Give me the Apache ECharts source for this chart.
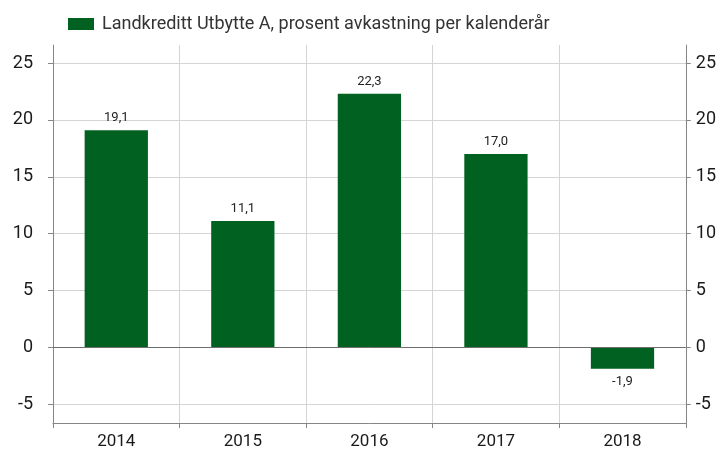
<!DOCTYPE html>
<html>
<head>
<meta charset="utf-8">
<script src="https://cdn.jsdelivr.net/npm/echarts@6/dist/echarts.min.js"></script>
<style>
  html, body { margin: 0; padding: 0; background: #fff; }
  #main { width: 719px; height: 450px; }
</style>
</head>
<body>
<div id="main"></div>
<script>
var years = ['2014', '2015', '2016', '2017', '2018'];
var returns = [19.1, 11.1, 22.3, 17.0, -1.9];
var yTicks = [-5, 0, 5, 10, 15, 20, 25];
var seriesName = 'Landkreditt Utbytte A, prosent avkastning per kalenderår';

var green = '#006121';
var axisGrey = '#868686';
var gridGrey = '#d4d4d4';
var font = 'Roboto';

var myChart = echarts.init(document.getElementById('main'));

function fmt(v) {
    return v.toFixed(1).replace('.', ',');
}

var barData = returns.map(function (v) {
    return {
        value: v,
        label: { position: v < 0 ? 'bottom' : 'top' }
    };
});

function yAxisCfg(pos, withSplit) {
    return {
        type: 'value',
        position: pos,
        min: -6.67,
        max: 26.6,
        splitNumber: 6,
        axisLine: { show: true, lineStyle: { color: axisGrey } },
        axisTick: { show: true, length: 5, lineStyle: { color: axisGrey }, customValues: yTicks },
        axisLabel: {
            customValues: yTicks,
            margin: pos === 'left' ? 20 : 10,
            fontFamily: font, fontSize: 18, color: '#1a1a1a'
        },
        splitLine: {
            show: withSplit,
            lineStyle: { color: gridGrey }
        }
    };
}

option = {
    animation: false,
    legend: {
        data: [seriesName],
        left: 63,
        top: 10,
        itemWidth: 26,
        itemHeight: 12,
        itemGap: 10,
        icon: 'rect',
        textStyle: { fontFamily: font, fontSize: 18, color: '#333', padding: [0, 0, 0, 3] }
    },
    grid: {
        left: 53,
        right: 33,
        top: 45,
        bottom: 27
    },
    xAxis: {
        type: 'category',
        data: years,
        boundaryGap: true,
        axisLine: { onZero: false, lineStyle: { color: axisGrey } },
        axisTick: { show: true, length: 5, lineStyle: { color: axisGrey } },
        axisLabel: { margin: 10, fontFamily: font, fontSize: 17, color: '#1a1a1a' },
        splitLine: { show: true, lineStyle: { color: gridGrey } }
    },
    yAxis: [yAxisCfg('left', true), yAxisCfg('right', false)],
    series: [{
        name: seriesName,
        type: 'bar',
        barWidth: '50%',
        itemStyle: { color: green },
        label: {
            show: true,
            distance: 6,
            fontFamily: font,
            fontSize: 13,
            color: '#222',
            formatter: function (p) { return fmt(p.value); }
        },
        data: barData,
        markLine: {
            silent: true,
            symbol: 'none',
            label: { show: false },
            lineStyle: { color: '#6e6e6e', type: 'solid', width: 1 },
            data: [{ yAxis: 0 }]
        }
    }]
};

myChart.setOption(option);
</script>
</body>
</html>
